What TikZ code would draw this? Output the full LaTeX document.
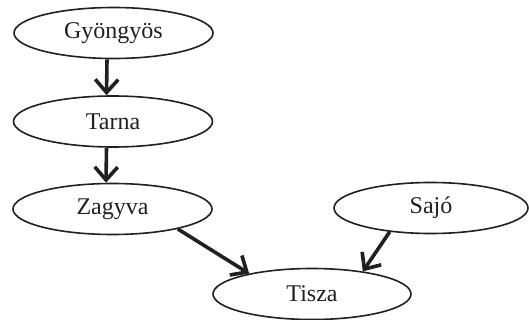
\documentclass[tikz,border=0pt]{standalone}
\usepackage{fontspec}
\setmainfont{Liberation Serif}
\usetikzlibrary{shapes.geometric,arrows.meta}
\definecolor{ink}{HTML}{231F20}
\begin{document}
\begin{tikzpicture}[x=1pt,y=-1pt,
  river/.style={ellipse, draw=ink, line width=1.6pt, inner sep=0pt,
    minimum width=199pt, minimum height=51pt, text=ink,
    font=\fontsize{24}{24}\selectfont},
  flow/.style={draw=ink, line width=3.6pt,
    -{Straight Barb[length=13pt,width=23pt]}}]
  \useasboundingbox (0,0) rectangle (529,320);
  % source rivers and their junctions
  \node[river] (gy) at (113.5,33) {Gyöngyös};
  \node[river] (ta) at (113,121.5) {Tarna};
  \node[river] (za) at (112.5,209) {Zagyva};
  \node[river, minimum width=194pt] (sa) at (431,208) {Sajó};
  \node[river, minimum width=198pt] (ti) at (312,294) {Tisza};
  % tributary flows
  \draw[flow] ([xshift=-6.5pt]gy.south) -- ([xshift=-6.5pt]ta.north);
  \draw[flow] ([xshift=-6.5pt]ta.south) -- ([xshift=-6.5pt]za.north);
  \draw[flow] (za.-17) -- (ti.162);
  \draw[flow] (sa.210) -- (ti.24);
\end{tikzpicture}
\end{document}
